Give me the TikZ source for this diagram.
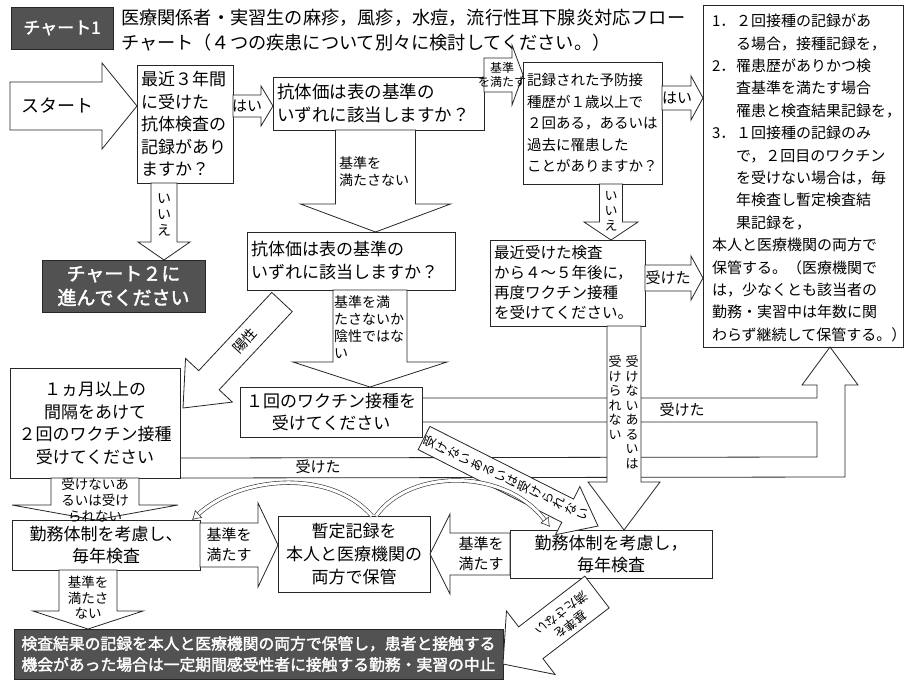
\documentclass[tikz,border=0pt]{standalone}
\usepackage{fontspec}
\setmainfont{Noto Sans CJK JP}[AutoFakeBold=2]
\usetikzlibrary{calc,arrows.meta}
\newcommand{\jfs}[2]{\fontsize{#1}{#2}\selectfont}
% block arrow: [style]{tail}{tip}{shaft half width}{head half width}{head length}
\newcommand{\blkarrow}[6][]{%
  \coordinate (bT) at (#2);
  \coordinate (bH) at (#3);
  \coordinate (bN) at ($(bH)!#6pt!(bT)$);
  \draw[arrowbox,#1] ($(bT)!#4pt!90:(bH)$) -- ($(bN)!#4pt!90:(bH)$) -- ($(bN)!#5pt!90:(bH)$) -- (bH)
     -- ($(bN)!#5pt!-90:(bH)$) -- ($(bN)!#4pt!-90:(bH)$) -- ($(bT)!#4pt!-90:(bH)$) -- cycle;
}
\begin{document}
\begin{tikzpicture}[x=1pt,y=-1pt,
  box/.style={draw=black!85, line width=0.8pt, fill=white, inner xsep=4pt, inner ysep=0pt, outer sep=0pt},
  dark/.style={draw=black!85, line width=0.8pt, fill=black!68, text=white, inner sep=0pt, outer sep=0pt, align=center},
  arrowbox/.style={draw=black!85, line width=0.8pt, fill=white, line join=miter},
  lab/.style={inner sep=0pt, outer sep=0pt, align=center},
  band/.style={draw=black!85, line width=0.8pt, line join=miter},
  curvy/.style={draw=black!80, line width=0.6pt, double=white, double distance=3pt, -{Latex[open,length=9pt,width=11pt]}}]
\useasboundingbox[fill=white] (0,0) rectangle (907,686);

% ---------- boxes ----------
\node[dark, minimum width=102pt, minimum height=42pt, font=\jfs{17}{20}\bfseries] (chart1) at (62,28) {チャート1};
\node[lab, anchor=north west, align=left, font=\jfs{18.2}{25.5}] (title) at (121,9)
  {医療関係者・実習生の麻疹，風疹，水痘，流行性耳下腺炎対応フロー\\チャート（４つの疾患について別々に検討してください。）};

\node[box, text width=88pt, minimum height=118pt, align=left, font=\jfs{17}{22.5}] (q1) at (185,124)
  {最近３年間\\に受けた\\抗体検査の\\記録があり\\ますか？};
\node[box, text width=203pt, minimum height=53pt, align=left, font=\jfs{17.5}{23}] (q2) at (378.5,103.5)
  {抗体価は表の基準の\\いずれに該当しますか？};
\node[box, text width=131pt, minimum height=122pt, align=left, font=\jfs{14.5}{21.5}] (q3) at (592.5,123)
  {記録された予防接\\種歴が１歳以上で\\２回ある，あるいは\\過去に罹患した\\ことがありますか？};
\node[box, minimum width=200pt, minimum height=342pt] (note) at (803,176) {};
\node[lab, anchor=north west, align=left, font=\jfs{15}{22.4}] (notetext) at (712,14) {%
\makebox[1.6em][l]{1．}２回接種の記録があ\\
\hspace*{1.6em}る場合，接種記録を，\\
\makebox[1.6em][l]{2．}罹患歴がありかつ検\\
\hspace*{1.6em}査基準を満たす場合\\
\hspace*{1.6em}罹患と検査結果記録を，\\
\makebox[1.6em][l]{3．}１回接種の記録のみ\\
\hspace*{1.6em}で，２回目のワクチン\\
\hspace*{1.6em}を受けない場合は，毎\\
\hspace*{1.6em}年検査し暫定検査結\\
\hspace*{1.6em}果記録を，\\
本人と医療機関の両方で\\
保管する。（医療機関で\\
は，少なくとも該当者の\\
勤務・実習中は年数に関\\
わらず継続して保管する。）};

\node[dark, minimum width=163pt, minimum height=52pt, font=\jfs{19}{24}\bfseries] (chart2) at (123.5,286)
  {チャート２に\\進んでください};
\node[box, text width=200pt, minimum height=58pt, align=left, font=\jfs{17}{23}] (q4) at (351,261)
  {抗体価は表の基準の\\いずれに該当しますか？};
\node[box, text width=147pt, minimum height=86pt, align=left, font=\jfs{15.5}{20}] (q5) at (567.5,283)
  {最近受けた検査\\から４～５年後に，\\再度ワクチン接種\\を受けてください。};
\node[box, text width=174pt, minimum height=50pt, align=center, font=\jfs{17}{22}] (q6) at (331,412)
  {１回のワクチン接種を\\受けてください};
\node[box, text width=162pt, minimum height=110pt, align=center, font=\jfs{17}{22.5}] (m1) at (95,423)
  {１ヵ月以上の\\間隔をあけて\\２回のワクチン接種\\受けてください};
\node[box, text width=180pt, minimum height=50pt, align=center, font=\jfs{17}{22}] (q8) at (106,545)
  {勤務体制を考慮し、\\毎年検査};
\node[box, text width=144pt, minimum height=76pt, align=center, font=\jfs{17}{23}] (r) at (354,554)
  {暫定記録を\\本人と医療機関の\\両方で保管};
\node[box, text width=194pt, minimum height=48pt, align=center, font=\jfs{17}{22}] (q7) at (611,554)
  {勤務体制を考慮し，\\毎年検査};
\node[dark, minimum width=489pt, minimum height=50pt, font=\jfs{15.8}{21}\bfseries] (bot) at (258.5,654)
  {検査結果の記録を本人と医療機関の両方で保管し，患者と接触する\\機会があった場合は一定期間感受性者に接触する勤務・実習の中止};

% ---------- "受けた" bands to the note ----------
\draw[band] ($(q6.north east)+(0,11)$) -- (817,398) -- (817,385) -- (802,385) -- (note.south -| 830,0)
  -- (858,385) -- (845,385) -- (845,477) -- (m1.south east);
\draw[band] ($(m1.south east)+(0,-20)$) -- (817,457) -- (817,422) -- ($(q6.north east)+(0,35)$);
\node[lab, font=\jfs{15}{18}] (lbband1) at (682,410) {受けた};
\node[lab, font=\jfs{15}{18}] (lbband2) at (318,467) {受けた};

% ---------- block arrows ----------
\blkarrow{10,106}{$(q1.west)+(0,-18)$}{24}{43}{35}
\blkarrow{$(q1.east)+(0,-18)$}{$(q2.west)+(0,2.5)$}{11}{20}{12}
\blkarrow{$(q2.north east)+(0,-2)$}{$(q3.west)+(0,-48)$}{17}{30}{11}
\blkarrow{$(q3.east)+(0,-25)$}{$(note.west)+(0,-78)$}{12}{22}{12}
\blkarrow{$(q1.south)+(-21,0)$}{$(chart2.north)+(40.5,0)$}{13}{26}{18}
\blkarrow{$(q2.south)+(-3,0)$}{$(q4.north)+(24.5,0)$}{40}{75}{28}
\blkarrow{$(q4.south)+(19,0)$}{$(q6.north)+(39,0)$}{37}{77}{25}
\blkarrow{$(q4.south west)+(35,12)$}{$(m1.east)+(3,-15)$}{14}{32}{38}
\blkarrow{$(q3.south)+(18.5,0)$}{$(q5.north)+(43.5,0)$}{11.5}{27}{18}
\blkarrow{$(q5.east)+(0,-5)$}{$(note.west)+(0,102)$}{13}{22}{12}
\blkarrow{$(q5.south)+(56.5,0)$}{$(q7.north)+(13,0)$}{17}{36}{48}
\blkarrow{$(q6.south east)+(2,1)$}{$(q7.north)+(-13,-4)$}{13}{27}{34}
\blkarrow{m1.south}{$(q8.north)+(-11,0)$}{44}{83}{15}
\blkarrow{q8.east}{$(r.west)+(0,-9)$}{22}{42}{20}
\blkarrow{q7.west}{r.east}{21}{40}{20}
\blkarrow{$(q8.south)+(-18,0)$}{$(bot.north)+(-170.5,0)$}{29}{55}{18}
\blkarrow{$(q7.south)+(-14,14)$}{$(bot.east)+(0,10)$}{20}{40}{35}

% ---------- curved arrows ----------
\draw[curvy] ($(r.north)+(18,0)$) .. controls (330,468) and (240,476) .. ($(q8.north east)+(-8,0)$);
\draw[curvy] ($(r.north)+(22,0)$) .. controls (410,468) and (505,468) .. ($(q7.north west)+(40,-3)$);

% ---------- arrow labels ----------
\node[lab, font=\jfs{18}{20}] (lbstart) at (57,106) {スタート};
\node[lab, font=\jfs{15}{18}] (lbyes1) at (247,106) {はい};
\node[lab, font=\jfs{12}{14.5}] (lbok1) at (502,75) {基準\\を満たす};
\node[lab, font=\jfs{15}{18}] (lbyes2) at (677,98) {はい};
\node[lab, font=\jfs{14}{16}] (lbno1) at (164,215) {い\\い\\え};
\node[lab, anchor=north west, align=left, font=\jfs{14}{17}] (lbng1) at (339,157) {基準を\\満たさない};
\node[lab, anchor=north west, align=left, font=\jfs{14}{17}] (lbng2) at (334,296) {基準を満\\たさないか\\陰性ではな\\い};
\node[lab, rotate=47.5, font=\jfs{14}{16}] (lbpos) at (245,341) {陽性};
\node[lab, font=\jfs{13}{15}] (lbno2) at (611,211) {い\\い\\え};
\node[lab, font=\jfs{15}{18}] (lbdone) at (668,278) {受けた};
\node[lab, anchor=north, font=\jfs{13}{14.5}] (lbcol1) at (632,356) {受\\け\\な\\い\\あ\\る\\い\\は};
\node[lab, anchor=north, font=\jfs{13}{14.5}] (lbcol2) at (615,356) {受\\け\\ら\\れ\\な\\い};
\node[lab, rotate=64.8, font=\jfs{12.5}{13}] (lbdiag) at (506,478) {受\\け\\な\\い\\あ\\る\\い\\は\\受\\け\\ら\\れ\\な\\い};
\node[lab, font=\jfs{13.5}{16}] (lbm1) at (95,500) {受けないあ\\るいは受け\\られない};
\node[lab, font=\jfs{15}{20}] (lbok2) at (229,545) {基準を\\満たす};
\node[lab, font=\jfs{15}{20}] (lbok3) at (481,554) {基準を\\満たす};
\node[lab, font=\jfs{13.5}{15.5}] (lbng3) at (88,598) {基準を\\満たさ\\ない};
\node[lab, rotate=-142.5, font=\jfs{12.5}{15}] (lbng4) at (566,619) {基準を\\満たさない};
\end{tikzpicture}
\end{document}
